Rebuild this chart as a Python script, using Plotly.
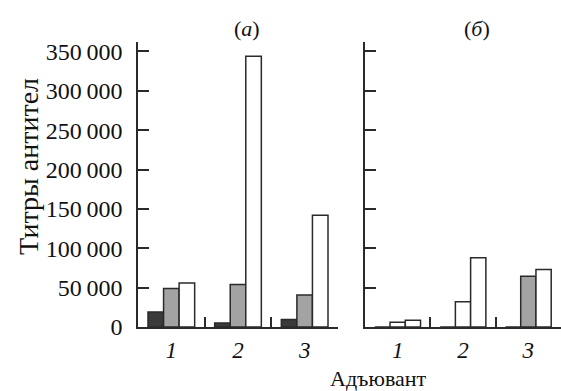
import plotly.graph_objects as go

# ---- data ----
adjuvants = ["1", "2", "3"]
a_dark = [19000, 5000, 9500]
a_gray = [49000, 54000, 40500]
a_white = [56000, 344000, 142000]
b_dark = [0, 0, 0]
b_gray = [6000, 32000, 64500]
b_white = [8500, 88000, 73000]
y_ticks = [0, 50000, 100000, 150000, 200000, 250000, 300000, 350000]

# ---- styles ----
DARK = "#3a3a3a"
GRAY = "#a3a3a3"
WHITE = "#ffffff"
EDGE = "#2a2a2a"
b_gray_colors = [WHITE, WHITE, GRAY]
FONT = "Liberation Serif"
TXT = "#111111"

fig = go.Figure()

def add(x, y, color, xa, ya):
    fig.add_trace(go.Bar(
        x=x, y=y, xaxis=xa, yaxis=ya,
        marker=dict(color=color, line=dict(color=EDGE, width=1.5)),
        showlegend=False,
    ))

add(adjuvants, a_dark, DARK, "x", "y")
add(adjuvants, a_gray, GRAY, "x", "y")
add(adjuvants, a_white, WHITE, "x", "y")
add(adjuvants, b_dark, DARK, "x2", "y2")
add(adjuvants, b_gray, b_gray_colors, "x2", "y2")
add(adjuvants, b_white, WHITE, "x2", "y2")

L, R, T, B = 138, 0, 42, 64
W, H = 561, 391
pw = W - L - R
ph = H - T - B

def px_to_x(px):
    return (px - L) / pw

def px_to_y(py):
    return (H - B - py) / ph

xcommon = dict(
    type="category", range=[-0.5, 2.5], showline=True, linecolor=EDGE, linewidth=1.5,
    ticks="inside", tickson="boundaries", ticklen=10, tickcolor=EDGE, tickwidth=1.5,
    tickfont=dict(family=FONT, size=23, color=TXT, style="italic"),
    ticklabelstandoff=2, showgrid=False, zeroline=False, fixedrange=True,
)
ycommon = dict(
    range=[0, 362000], showline=True, linecolor=EDGE, linewidth=1.5,
    ticks="inside", ticklen=11, tickcolor=EDGE, tickwidth=1.5,
    tickvals=y_ticks, tickformat=",d", showgrid=False, zeroline=False,
    tickfont=dict(family=FONT, size=24, color=TXT),
)

fig.update_layout(
    width=W, height=H,
    margin=dict(l=L, r=R, t=T, b=B, autoexpand=False),
    paper_bgcolor="white", plot_bgcolor="white",
    separators=".\u2009",
    barmode="group", bargap=0.3, bargroupgap=0,
    xaxis=dict(domain=[0, px_to_x(338)], anchor="y", **xcommon),
    xaxis2=dict(domain=[px_to_x(365), 1], anchor="y2", **xcommon),
    yaxis=dict(anchor="x", ticklabelstandoff=9, **ycommon),
    yaxis2=dict(anchor="x2", showticklabels=False, **ycommon),
    font=dict(family=FONT, color=TXT),
    annotations=[
        dict(text="Титры антител", xref="paper", yref="paper",
             x=px_to_x(28), y=px_to_y(167), xanchor="center", yanchor="middle",
             textangle=-90, showarrow=False, font=dict(family=FONT, size=28, color=TXT)),
        dict(text="Адъювант", xref="paper", yref="paper",
             x=px_to_x(378), y=px_to_y(378), xanchor="center", yanchor="middle",
             showarrow=False, font=dict(family=FONT, size=22, color=TXT)),
        dict(text="(<i>а</i>)", xref="paper", yref="paper",
             x=px_to_x(247), y=px_to_y(28), xanchor="center", yanchor="middle",
             showarrow=False, font=dict(family=FONT, size=22, color=TXT)),
        dict(text="(<i>б</i>)", xref="paper", yref="paper",
             x=px_to_x(477), y=px_to_y(28), xanchor="center", yanchor="middle",
             showarrow=False, font=dict(family=FONT, size=22, color=TXT)),
    ],
)

fig.write_html(
    "out.html",
    config={"displayModeBar": False},
    post_script="document.body.style.margin='0';document.body.style.overflow='hidden';",
)
